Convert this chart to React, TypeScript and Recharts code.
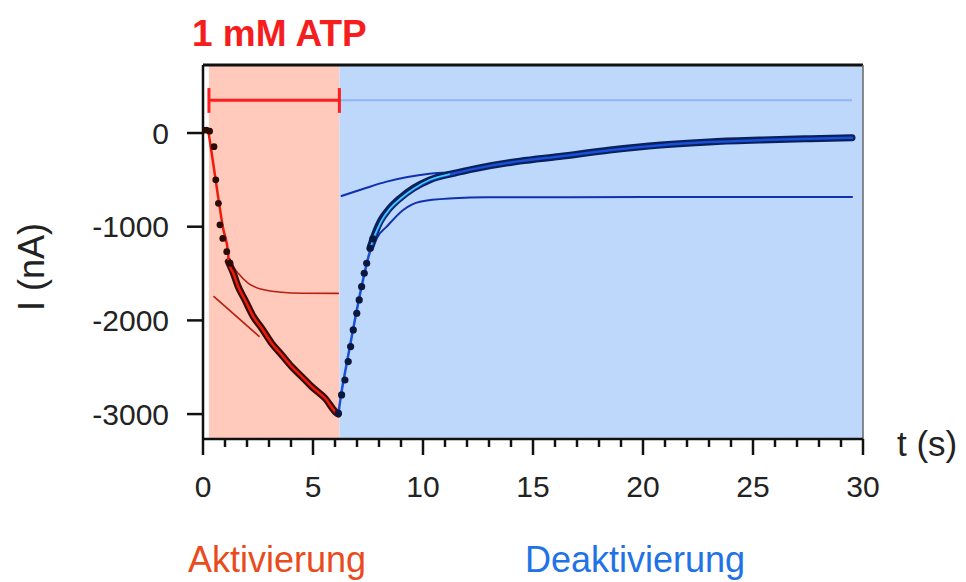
import {
  ComposedChart,
  Line,
  Scatter,
  XAxis,
  YAxis,
  ReferenceArea,
  ReferenceLine,
} from "recharts";

// axis ticks
const X_TICKS = [0, 1, 2, 3, 4, 5, 6, 7, 8, 9, 10, 11, 12, 13, 14, 15, 16, 17, 18, 19, 20, 21, 22, 23, 24, 25, 26, 27, 28, 29, 30];
const Y_TICKS = [-3000, -2000, -1000, 0];
const Y_DOMAIN: [number, number] = [-3266, 726];

// ATP application window and bar level (nA)
const ATP_START = 0.27;
const ATP_END = 6.2;
const BAR_LEVEL = 350;
const BAR_CAP = [480, 215];
const BASELINE_END = 29.5;

// activation: sparse measured points, then the dense part of the trace [t (s), I (nA)]
const actDots: [number, number][] = [
  [0.02, 30], [0.15, 30], [0.3, 20], [0.5, -146], [0.58, -500], [0.7, -750],
  [0.77, -980], [0.9, -1125], [1.08, -1266], [1.23, -1390],
];
const actDense: [number, number][] = [
  [1.15, -1373], [1.38, -1497], [1.6, -1640], [1.91, -1782], [2.29, -1960], [2.67, -2084],
  [3.12, -2244], [3.58, -2369], [4.03, -2494], [4.49, -2600], [4.94, -2707], [5.55, -2831],
  [6.08, -2990], [6.15, -3000],
];
const actFitStart: [number, number][] = [
  [0.25, 10], [0.5, -380], [0.7, -700], [0.9, -1000], [1.15, -1300],
];
const actExp: [number, number][] = [
  [1.2, -1340], [1.38, -1427], [1.6, -1497], [2.06, -1604], [2.67, -1668], [3.58, -1700],
  [4.5, -1710], [6.15, -1712],
];
const actLinear: [number, number][] = [[0.5, -1746], [2.55, -2170]];

// deactivation
const deaDots: [number, number][] = [
  [6.15, -2990], [6.3, -2796], [6.45, -2636], [6.6, -2440], [6.71, -2280], [6.83, -2102],
  [6.99, -1924], [7.1, -1782], [7.21, -1640], [7.33, -1497], [7.44, -1390], [7.59, -1230],
  [7.72, -1130],
];
const deaDense: [number, number][] = [
  [7.62, -1205], [7.82, -1070], [8.05, -946], [8.42, -821], [8.95, -697],
  [9.56, -590], [10.3, -501], [11.4, -430], [12.44, -377], [14.4, -300], [16.2, -250],
  [18.5, -181], [20.8, -128], [23, -95], [25.3, -75], [27.6, -60], [29.5, -50],
];
const deaFit: [number, number][] = [
  [6.15, -3000], [6.3, -2760], [6.5, -2500], [6.7, -2250], [6.9, -2000], [7.1, -1760],
  [7.3, -1540], [7.5, -1340], [7.8, -1110], [8.1, -950], [8.5, -810], [9, -700],
  [9.6, -595], [10.3, -505], [11.4, -432], [12.4, -380], [14.4, -300], [16.2, -250],
  [18.5, -183], [20.8, -130], [23, -97], [25.3, -76], [27.6, -60], [29.5, -50],
];
const deaCyan: [number, number][] = [
  [7.6, -1230], [7.8, -1095], [8.1, -940], [8.5, -805], [9, -695], [9.6, -590],
  [10.3, -500], [11.2, -440],
];
const deaSlow: [number, number][] = [
  [6.3, -672], [7.3, -595], [8.35, -519], [9.3, -470], [10.3, -435], [11.4, -415], [12.4, -378],
];
const deaFast: [number, number][] = [
  [7.7, -1250], [7.9, -1124], [8.35, -1000], [9.1, -821], [9.86, -733], [11.4, -697],
  [12.9, -686], [20, -684], [29.5, -684],
];

const pts = (arr: [number, number][]) => arr.map(([t, i]) => ({ t, i }));

const FONT = "'Liberation Sans', Arial, sans-serif";

function TimeTick({ x, y, payload }: any) {
  const major = payload.value % 5 === 0;
  return (
    <g>
      <line x1={x} x2={x} y1={y} y2={y + (major ? 16 : 8)} stroke="#111" strokeWidth={2.5} />
      {major && (
        <text x={x} y={y + 58} textAnchor="middle" fontSize={30} fill="#222">
          {payload.value}
        </text>
      )}
    </g>
  );
}

const dot = (fill: string, r: number) => (p: any) => <circle cx={p.cx} cy={p.cy} r={r} fill={fill} />;

function trace(key: string, arr: [number, number][], stroke: string, width: number) {
  return (
    <Line
      key={key}
      data={pts(arr)}
      dataKey="i"
      type="monotone"
      stroke={stroke}
      strokeWidth={width}
      dot={false}
      activeDot={false}
      isAnimationActive={false}
      strokeLinecap="round"
    />
  );
}

export default function App() {
  return (
    <div style={{ position: "absolute", left: 0, top: 0, width: 966, height: 582, fontFamily: FONT, background: "#fff" }}>
      <ComposedChart width={966} height={582} margin={{ top: 65, right: 103, left: 13, bottom: 83 }}>
        <XAxis
          dataKey="t"
          type="number"
          domain={[0, 30]}
          ticks={X_TICKS}
          interval={0}
          allowDataOverflow
          height={60}
          tickSize={0}
          tickMargin={0}
          tickLine={false}
          axisLine={{ stroke: "#111", strokeWidth: 2.5 }}
          tick={<TimeTick />}
        />
        <YAxis
          dataKey="i"
          type="number"
          domain={Y_DOMAIN}
          ticks={Y_TICKS}
          allowDataOverflow
          width={190}
          tickSize={16}
          tickMargin={18}
          tick={{ fontSize: 30, fill: "#222" }}
          tickLine={{ stroke: "#111", strokeWidth: 2.5 }}
          axisLine={{ stroke: "#111", strokeWidth: 2.5 }}
        />
        <ReferenceArea x1={ATP_START} x2={ATP_END} fill="#ffc9bb" fillOpacity={1} stroke="none" />
        <ReferenceArea x1={ATP_END} x2={30} fill="#bed8fb" fillOpacity={1} stroke="none" />
        <ReferenceLine y={Y_DOMAIN[1]} stroke="#111" strokeWidth={3} />
        <ReferenceLine x={30} stroke="#666" strokeWidth={1.5} />

        {/* ATP bar and baseline */}
        <ReferenceLine segment={[{ x: ATP_END, y: BAR_LEVEL }, { x: BASELINE_END, y: BAR_LEVEL }]} stroke="#8fb5f5" strokeWidth={2} />
        <ReferenceLine segment={[{ x: ATP_START, y: BAR_LEVEL }, { x: ATP_END, y: BAR_LEVEL }]} stroke="#ff1e1e" strokeWidth={3} />
        <ReferenceLine segment={[{ x: ATP_START, y: BAR_CAP[0] }, { x: ATP_START, y: BAR_CAP[1] }]} stroke="#ff1e1e" strokeWidth={3} />
        <ReferenceLine segment={[{ x: ATP_END, y: BAR_CAP[0] }, { x: ATP_END, y: BAR_CAP[1] }]} stroke="#ff1e1e" strokeWidth={3} />

        {/* activation */}
        {trace("actExp", actExp, "#b8200c", 1.6)}
        {trace("actLin", actLinear, "#b8200c", 1.6)}
        {trace("actDense", actDense, "#3a0d08", 7)}
        <Scatter data={pts(actDots)} dataKey="i" shape={dot("#2b0c05", 3.4)} isAnimationActive={false} />
        {trace("actFit", [...actFitStart, ...actDense], "#f01a0a", 2.5)}

        {/* deactivation */}
        {trace("deaSlow", deaSlow, "#1030b0", 2)}
        {trace("deaFast", deaFast, "#1030b0", 2)}
        {trace("deaDense", deaDense, "#08205c", 7)}
        <Scatter data={pts(deaDots)} dataKey="i" shape={dot("#0a1840", 3.6)} isAnimationActive={false} />
        {trace("deaFit", deaFit, "#1a4fd8", 2.5)}
        {trace("deaCyan", deaCyan, "#45d4f2", 1.5)}
      </ComposedChart>

      <svg width={966} height={582} style={{ position: "absolute", left: 0, top: 0, pointerEvents: "none" }}>
        <text x={192} y={46} fontSize={37} fontWeight="bold" fill="#f51d1d">1 mM ATP</text>
        <text x={44} y={267} fontSize={36} fill="#222" textAnchor="middle" transform="rotate(-90, 44, 267)">I (nA)</text>
        <text x={897} y={456} fontSize={35} fill="#222">t (s)</text>
        <text x={188} y={572} fontSize={36} fill="#e94b1c">Aktivierung</text>
        <text x={525} y={572} fontSize={36} fill="#2172e6">Deaktivierung</text>
      </svg>
    </div>
  );
}
